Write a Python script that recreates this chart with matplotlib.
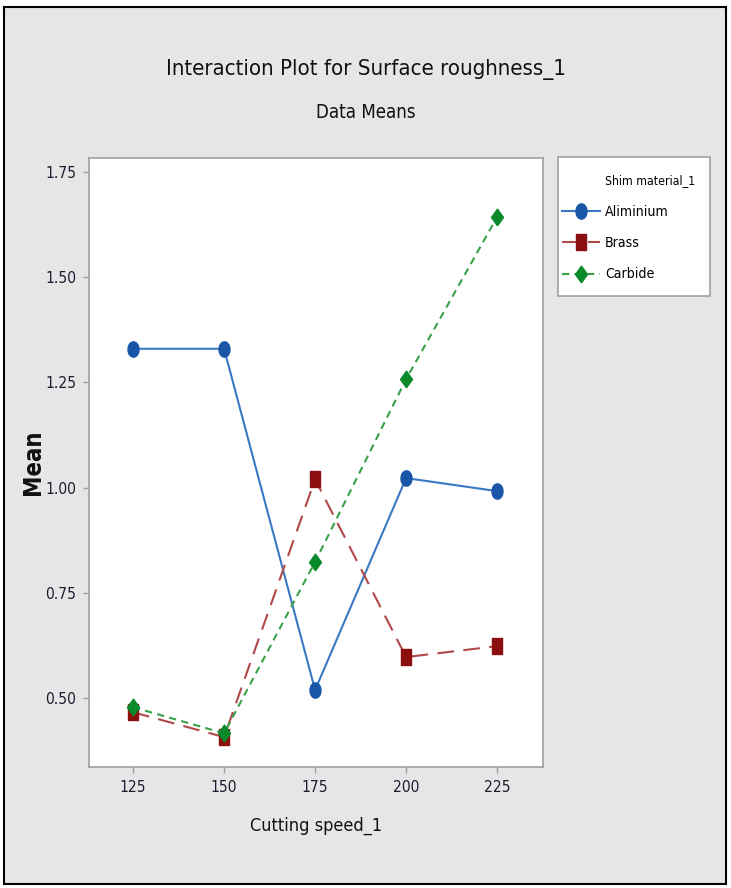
import matplotlib
matplotlib.use("Agg")
import numpy as np
import matplotlib.pyplot as plt
from matplotlib.patches import Rectangle
from matplotlib.lines import Line2D
from matplotlib import font_manager

# choose the narrowest available sans font
cands = []
for f in font_manager.fontManager.ttflist:
    nm = (f.name + " " + f.fname).lower()
    if ('narrow' in nm or 'condensed' in nm or f.stretch in ('condensed', 'semi-condensed', 'extra-condensed', 'ultra-condensed')) \
            and f.style == 'normal' and f.weight in (400, 'normal', 'regular') and 'mono' not in nm and 'serif' not in f.name.lower():
        cands.append(f)
if cands:
    fe = cands[0]
    plt.rcParams['font.family'] = [fe.name, 'DejaVu Sans']
    plt.rcParams['font.stretch'] = fe.stretch
else:
    plt.rcParams['font.family'] = ['Liberation Sans', 'DejaVu Sans']

speeds = [125, 150, 175, 200, 225]
aluminium = [1.33, 1.33, 0.52, 1.023, 0.992]
brass = [0.467, 0.408, 1.02, 0.598, 0.624]
carbide = [0.479, 0.417, 0.824, 1.258, 1.643]
yticks = [0.50, 0.75, 1.00, 1.25, 1.50, 1.75]
legend_title = 'Shim material_1'

# tall (horizontally squeezed) marker shapes
_t = np.linspace(0, 2*np.pi, 40)
m_ellipse = list(zip(0.72*np.cos(_t), np.sin(_t)))
m_rect = [(-0.68, -1), (0.68, -1), (0.68, 1), (-0.68, 1), (-0.68, -1)]
m_diam = [(0, -1), (0.72, 0), (0, 1), (-0.72, 0), (0, -1)]

W, H = 731, 888
fig = plt.figure(figsize=(W/100, H/100), dpi=100)
fig.patch.set_facecolor('white')
bg = Rectangle((4/W, 4/H), 722/W, 877/H, transform=fig.transFigure,
               facecolor='#e6e6e6', edgecolor='black', linewidth=1.5, zorder=-10)
fig.add_artist(bg)
# legend frame
fig.add_artist(Rectangle((558/W, 1-296/H), (710-558)/W, (296-157)/H, transform=fig.transFigure,
                         facecolor='white', edgecolor='#a0a0a0', linewidth=1.2, zorder=0.5))

ax = fig.add_axes([89/W, 1-767/H, (543-89)/W, (767-158)/H])
ax.set_facecolor('white')
ax.set_zorder(1)

l1, = ax.plot(speeds, aluminium, color='#3a78c4', lw=1.5, ls='-', marker=m_ellipse,
              markersize=11, markerfacecolor='#1a56a8', markeredgecolor='#1a56a8', label='Aliminium', zorder=3)
l2, = ax.plot(speeds, brass, color='#b04848', lw=1.5, ls=(0, (8, 4.5)), marker=m_rect,
              markersize=11, markerfacecolor='#8b0f0f', markeredgecolor='#8b0f0f', label='Brass', zorder=3)
l3, = ax.plot(speeds, carbide, color='#3aa04a', lw=1.5, ls=(0, (3.5, 2.5)), marker=m_diam,
              markersize=12, markerfacecolor='#0a8a2a', markeredgecolor='#0a8a2a', label='Carbide', zorder=4)

ax.set_xlim(112.9, 237.6)
ax.set_ylim(0.337, 1.783)
ax.set_xticks(speeds)
ax.set_xticklabels([str(s) for s in speeds])
ax.set_yticks(yticks)
ax.set_yticklabels([f"{v:.2f}" for v in yticks])
for s in ax.spines.values():
    s.set_color('#a0a0a0')
    s.set_linewidth(1.2)
ax.tick_params(axis='both', colors='#a0a0a0', labelcolor='#1c1c30', length=4, width=1,
               labelsize=13, pad=5)

xl = ax.set_xlabel('Cutting speed_1', fontsize=19, color='#111111', labelpad=16)
yl = ax.set_ylabel('Mean', fontsize=15, fontweight='bold', family='DejaVu Sans', color='#111111')
ax.yaxis.set_label_coords(-0.097, 0.5)

t1 = fig.text(366/W, 1-70/H, 'Interaction Plot for Surface roughness_1', ha='center', va='center',
              fontsize=24, color='#111111')
t2 = fig.text(366/W, 1-112/H, 'Data Means', ha='center', va='center', fontsize=18, color='#111111')


def fit(txt, target, horizontal=True):
    r = fig.canvas.get_renderer()
    bb = txt.get_window_extent(r)
    cur = bb.width if horizontal else bb.height
    if cur > 0:
        txt.set_fontsize(txt.get_fontsize() * target / cur)


def size_for(s, target, base=13):
    tmp = fig.text(0, 0, s, fontsize=base)
    w = tmp.get_window_extent(fig.canvas.get_renderer()).width
    tmp.remove()
    return base * target / w if w > 0 else base

fig.canvas.draw()
fit(t1, 400)
fit(t2, 100)
fit(xl, 132)
fit(yl, 66, horizontal=False)
r = fig.canvas.get_renderer()
tl = ax.get_yticklabels()[1]
w = tl.get_window_extent(r).width
ls = 13 * 31 / w if w > 0 else 12
ax.tick_params(labelsize=ls)

fs = size_for('Aliminium', 63)
fts = size_for(legend_title, 90)
px = fs * 100 / 72.0
hdr = Line2D([], [], color='none', label=legend_title)
leg = ax.legend(handles=[hdr, l1, l2, l3], loc='upper left',
                bbox_to_anchor=(562/W, 1-174/H), bbox_transform=fig.transFigure,
                fontsize=fs, frameon=False,
                handlelength=38/px, handletextpad=5/px, borderaxespad=0,
                borderpad=0, labelspacing=17.5/px, markerscale=1.0)
leg.get_texts()[0].set_fontsize(fts)

fig.savefig('out.png', dpi=100, facecolor=fig.get_facecolor())
